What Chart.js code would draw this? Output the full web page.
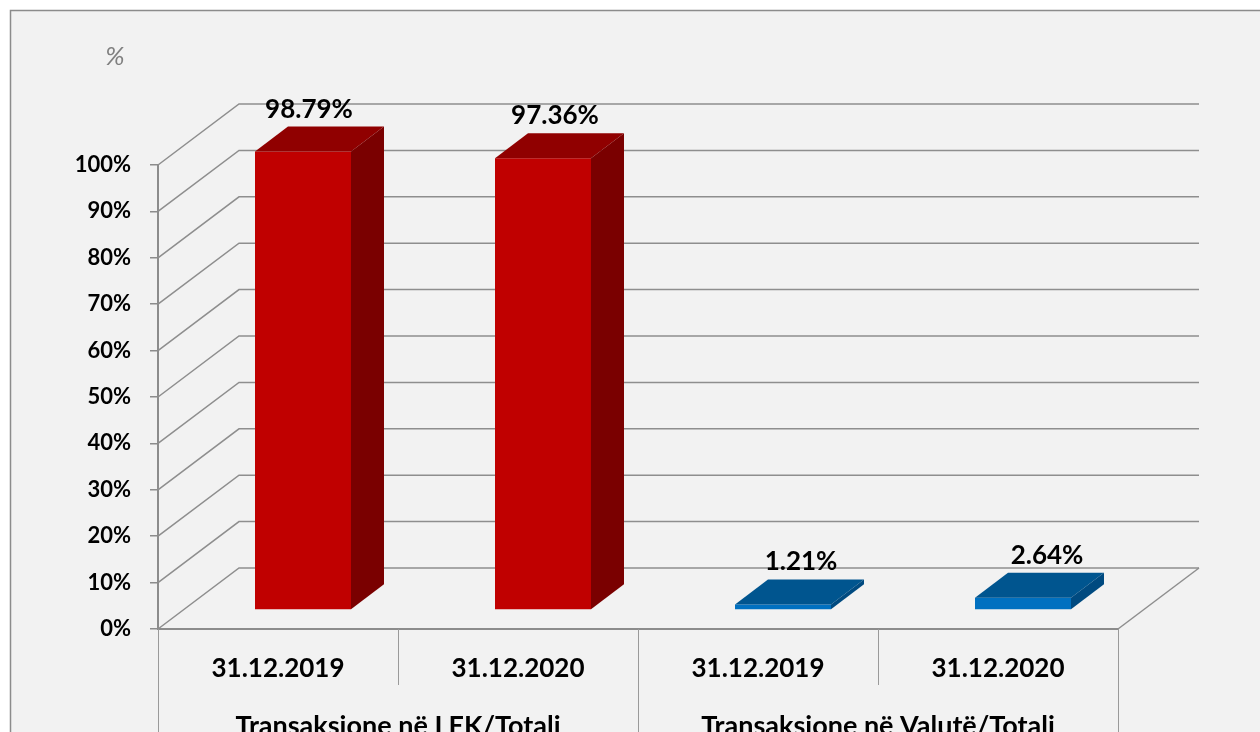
<!DOCTYPE html>
<html>
<head>
<meta charset="utf-8">
<script src="https://cdn.jsdelivr.net/npm/chart.js@4.4.1/dist/chart.umd.min.js"></script>
<style>
html,body{margin:0;padding:0;background:#ffffff;}
#wrap{width:1260px;height:732px;position:relative;}
canvas{display:block;}
</style>
</head>
<body>
<div id="wrap"><canvas id="c" width="1260" height="732"></canvas></div>
<script>
// ---- data ----
const categories = ['31.12.2019', '31.12.2020', '31.12.2019', '31.12.2020'];
const groups = ['Transaksione në LEK/Totali', 'Transaksione në Valutë/Totali'];
const shares = [98.79, 97.36, 1.21, 2.64];
const valueLabels = ['98.79%', '97.36%', '1.21%', '2.64%'];
const yMax = 100;
const yStep = 10;
const unitLabel = '%';

// ---- styles ----
const frontColors = ['#c00000', '#c00000', '#0070c0', '#0070c0'];
const topColors   = ['#900000', '#900000', '#00558f', '#00558f'];
const sideColors  = ['#7a0000', '#7a0000', '#004a80', '#004a80'];
const FONT = 'Lato, "Open Sans", "Liberation Sans", sans-serif';
const GRID = '#8e8e8e';

// 3D geometry (pixel offsets, style only)
const WALL = {dx: 81, dy: -61};   // depth of the floor / back wall
const FACE = {dx: 25, dy: -19};   // bar front face position inside the depth
const BAR  = {dx: 33, dy: -25};   // bar depth

const threeD = {
  id: 'threeD',
  beforeDraw(chart) {
    const ctx = chart.ctx;
    ctx.save();
    ctx.fillStyle = '#ffffff';
    ctx.fillRect(0, 0, chart.width, chart.height);
    ctx.fillStyle = '#f2f2f2';
    ctx.fillRect(10, 10, chart.width, chart.height);
    ctx.strokeStyle = '#8c8c8c';
    ctx.lineWidth = 1.5;
    ctx.beginPath();
    ctx.moveTo(10.5, chart.height + 5);
    ctx.lineTo(10.5, 10.5);
    ctx.lineTo(chart.width + 5, 10.5);
    ctx.stroke();
    // unit label
    ctx.fillStyle = '#808080';
    ctx.font = 'italic 26px ' + FONT;
    ctx.textAlign = 'center';
    ctx.textBaseline = 'middle';
    ctx.fillText(unitLabel, 115, 57);
    ctx.restore();
  },
  beforeDatasetsDraw(chart) {
    const ctx = chart.ctx;
    const ys = chart.scales.y;
    const xs = chart.scales.x;
    const L = xs.left, R = xs.right;
    ctx.save();
    ctx.strokeStyle = GRID;
    ctx.lineWidth = 1.5;
    ys.ticks.forEach(t => {
      const y = ys.getPixelForValue(t.value);
      ctx.beginPath();
      ctx.moveTo(L, y);
      ctx.lineTo(L + WALL.dx, y + WALL.dy);
      ctx.lineTo(R + WALL.dx, y + WALL.dy);
      ctx.stroke();
    });
    // floor right edge
    const y0 = ys.getPixelForValue(0);
    ctx.beginPath();
    ctx.moveTo(R, y0);
    ctx.lineTo(R + WALL.dx, y0 + WALL.dy);
    ctx.stroke();
    ctx.restore();
    // shift the front faces of the bars into the depth
    ctx.save();
    ctx.translate(FACE.dx, FACE.dy);
  },
  afterDatasetsDraw(chart) {
    const ctx = chart.ctx;
    ctx.restore();
    const meta = chart.getDatasetMeta(0);
    ctx.save();
    meta.data.forEach((el, i) => {
      const p = el.getProps(['x', 'y', 'base', 'width'], true);
      const xl = p.x - p.width / 2 + FACE.dx;
      const xr = p.x + p.width / 2 + FACE.dx;
      const yt = p.y + FACE.dy;
      const yb = p.base + FACE.dy;
      // top face
      ctx.fillStyle = topColors[i];
      ctx.beginPath();
      ctx.moveTo(xl, yt);
      ctx.lineTo(xr, yt);
      ctx.lineTo(xr + BAR.dx, yt + BAR.dy);
      ctx.lineTo(xl + BAR.dx, yt + BAR.dy);
      ctx.closePath();
      ctx.fill();
      // side face
      ctx.fillStyle = sideColors[i];
      ctx.beginPath();
      ctx.moveTo(xr, yt);
      ctx.lineTo(xr + BAR.dx, yt + BAR.dy);
      ctx.lineTo(xr + BAR.dx, yb + BAR.dy);
      ctx.lineTo(xr, yb);
      ctx.closePath();
      ctx.fill();
      // value label
      const cx = p.x + FACE.dx;
      const lx = cx + 6 + (cx - 302) * 0.025;
      ctx.fillStyle = '#000000';
      ctx.font = 'bold 26px ' + FONT;
      ctx.textAlign = 'center';
      ctx.textBaseline = 'alphabetic';
      ctx.fillText(valueLabels[i], lx, p.y - 53);
    });
    ctx.restore();
  },
  afterDraw(chart) {
    const ctx = chart.ctx;
    const xs = chart.scales.x;
    const step = xs.width / categories.length;
    ctx.save();
    ctx.strokeStyle = '#9a9a9a';
    ctx.lineWidth = 1;
    for (let i = 0; i <= categories.length; i++) {
      const x = Math.round(xs.left + i * step) + 0.5;
      const long = (i % 2 === 0);
      ctx.beginPath();
      ctx.moveTo(x, xs.top);
      ctx.lineTo(x, long ? chart.height : xs.top + 56);
      ctx.stroke();
    }
    ctx.restore();
  }
};

new Chart(document.getElementById('c'), {
  type: 'bar',
  data: {
    labels: categories,
    datasets: [{
      data: shares,
      backgroundColor: frontColors,
      borderWidth: 0,
      barPercentage: 0.4,
      categoryPercentage: 1.0,
      clip: false
    }]
  },
  options: {
    responsive: false,
    devicePixelRatio: 1,
    animation: false,
    events: [],
    layout: {padding: {left: 0, top: 165, right: 142, bottom: 0}},
    plugins: {legend: {display: false}, tooltip: {enabled: false}, title: {display: false}},
    scales: {
      x: {
        type: 'category',
        position: 'bottom',
        weight: 0,
        offset: true,
        grid: {display: true, drawOnChartArea: false, drawTicks: false},
        border: {display: true, color: '#8c8c8c', width: 2},
        ticks: {
          autoSkip: false, maxRotation: 0, minRotation: 0,
          color: '#000000', padding: 24,
          font: {family: FONT, size: 26, weight: 'bold'}
        },
        afterFit(s) { s.height = 70; }
      },
      x2: {
        type: 'category',
        position: 'bottom',
        weight: 1,
        labels: groups,
        offset: true,
        grid: {display: false},
        border: {display: false},
        ticks: {
          autoSkip: false, maxRotation: 0, minRotation: 0,
          color: '#000000', padding: 3,
          font: {family: FONT, size: 27, weight: 'bold'}
        },
        afterFit(s) { s.height = 33; }
      },
      y: {
        min: 0,
        max: yMax,
        position: 'left',
        grid: {display: true, drawOnChartArea: false, drawTicks: true, tickLength: 8, color: '#8c8c8c', lineWidth: 1.5},
        border: {display: true, color: '#8c8c8c', width: 2},
        ticks: {
          stepSize: yStep,
          color: '#000000',
          padding: 19,
          font: {family: FONT, size: 22, weight: 'bold'},
          callback: v => v + '%'
        },
        afterFit(s) { s.width = 158; }
      }
    }
  },
  plugins: [threeD]
});
</script>
</body>
</html>
